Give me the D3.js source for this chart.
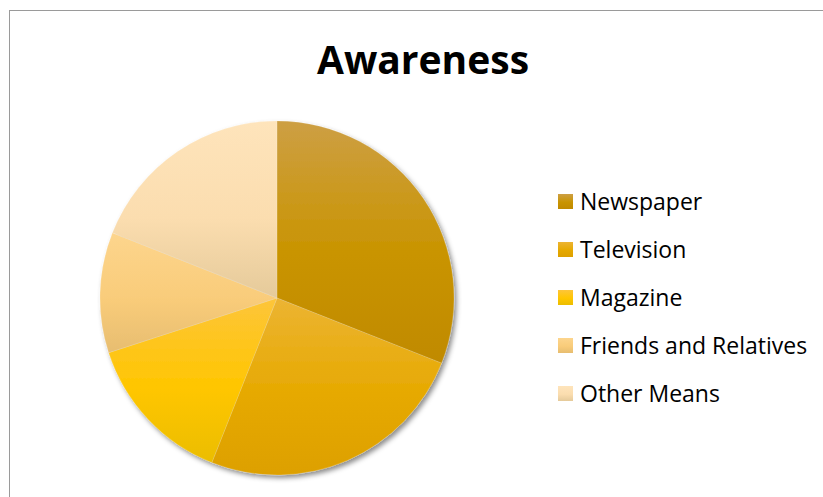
<!DOCTYPE html>
<html>
<head>
<meta charset="utf-8">
<script src="https://cdn.jsdelivr.net/npm/d3@7/dist/d3.min.js"></script>
<style>
  html, body { margin: 0; padding: 0; background: #fff; }
  svg { display: block; }
</style>
</head>
<body>
<svg id="chart" width="823" height="497"></svg>
<script>
// Awareness sources (share of respondents)
const categories = ["Newspaper", "Television", "Magazine", "Friends and Relatives", "Other Means"];
const values = [31, 25, 14, 11, 19];
const title = "Awareness";

// Gradient stops for each slice: top, middle, bottom
const shadesTop = ["#CD9F44", "#ECB433", "#FDC53A", "#FDD58D", "#FEE4BB"];
const shadesMid = ["#C99400", "#E6A900", "#FFC600", "#F9CC7A", "#FBDDAF"];
const shadesBot = ["#C08A00", "#DDA000", "#EBBD00", "#E7BD70", "#E5CA9A"];

const svg = d3.select("#chart");
const W = 823, H = 497;
const font = "'Open Sans', Lato, sans-serif";

// Chart frame
svg.append("rect")
  .attr("x", 9.5).attr("y", 10.5)
  .attr("width", W + 10).attr("height", H + 10)
  .attr("fill", "#fff")
  .attr("stroke", "#9a9a9a")
  .attr("stroke-width", 1);

const defs = svg.append("defs");

categories.forEach((c, i) => {
  const g = defs.append("linearGradient")
    .attr("id", "grad" + i)
    .attr("x1", 0).attr("y1", 0).attr("x2", 0).attr("y2", 1);
  g.append("stop").attr("offset", "0%").attr("stop-color", shadesTop[i]);
  g.append("stop").attr("offset", "55%").attr("stop-color", shadesMid[i]);
  g.append("stop").attr("offset", "100%").attr("stop-color", shadesBot[i]);
});

const shadow = defs.append("filter")
  .attr("id", "pieShadow")
  .attr("x", "-10%").attr("y", "-10%").attr("width", "125%").attr("height", "125%");
shadow.append("feDropShadow")
  .attr("dx", 2.5).attr("dy", 3)
  .attr("stdDeviation", 2.5)
  .attr("flood-color", "#000")
  .attr("flood-opacity", 0.45);

// Title
svg.append("text")
  .attr("x", 423).attr("y", 74)
  .attr("text-anchor", "middle")
  .attr("font-family", font)
  .attr("font-weight", "bold")
  .attr("font-size", 39)
  .attr("fill", "#000")
  .text(title);

// Pie
const cx = 277, cy = 298, r = 177;
const pie = d3.pie().sort(null).value(d => d)(values);
const arc = d3.arc().innerRadius(0).outerRadius(r);

const pieG = svg.append("g")
  .attr("transform", `translate(${cx},${cy})`)
  .attr("filter", "url(#pieShadow)");

pieG.selectAll("path")
  .data(pie)
  .join("path")
  .attr("d", arc)
  .attr("fill", (d, i) => `url(#grad${i})`)
  .attr("stroke", "rgba(255,255,255,0.25)")
  .attr("stroke-width", 0.6);

// Legend
const legendY = d3.scalePoint().domain(categories).range([202, 394]);
const legend = svg.append("g");
const rows = legend.selectAll("g")
  .data(categories)
  .join("g")
  .attr("transform", d => `translate(558,${legendY(d)})`);

rows.append("rect")
  .attr("x", 0).attr("y", -8)
  .attr("width", 15).attr("height", 15)
  .attr("fill", (d, i) => `url(#grad${i})`);

rows.append("text")
  .attr("x", 22).attr("y", 0)
  .attr("dy", "0.35em")
  .attr("font-family", font)
  .attr("font-size", 23)
  .attr("fill", "#000")
  .text(d => d);
</script>
</body>
</html>
